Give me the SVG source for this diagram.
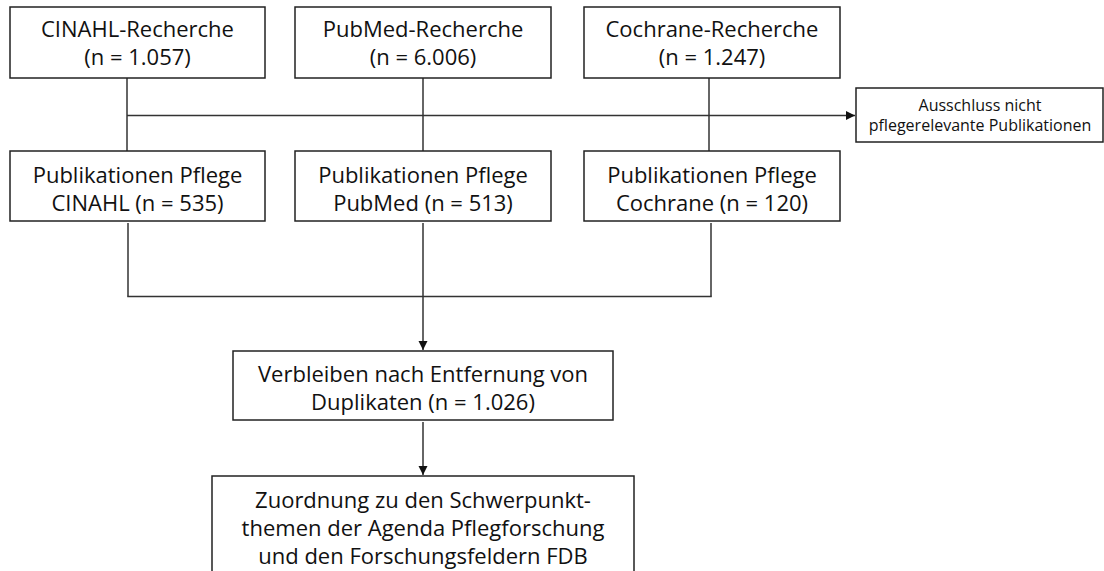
<svg xmlns="http://www.w3.org/2000/svg" width="1104" height="571" viewBox="0 0 1104 571">
<style>
.box{fill:#fff;stroke:#222;stroke-width:1.5}
.t{font-family:"Open Sans","DejaVu Sans",sans-serif;font-size:22px;fill:#111;text-anchor:middle}
.s{font-size:16px}
.ln{fill:none;stroke:#333;stroke-width:1.5}
</style>
<defs>
<marker id="ah" markerWidth="10" markerHeight="10" refX="9" refY="5" orient="auto" markerUnits="userSpaceOnUse">
<path d="M0,0.5 L9,5 L0,9.5 Z" fill="#111"/>
</marker>
</defs>
<rect width="1104" height="571" fill="#fff"/>
<g id="connectors">
<line class="ln" x1="127" y1="78" x2="127" y2="151"/>
<line class="ln" x1="423" y1="78" x2="423" y2="151"/>
<line class="ln" x1="709" y1="78" x2="709" y2="151"/>
<line class="ln" x1="127" y1="115.5" x2="855" y2="115.5" marker-end="url(#ah)"/>
<line class="ln" x1="128" y1="223" x2="128" y2="296.5"/>
<line class="ln" x1="711" y1="223" x2="711" y2="296.5"/>
<line class="ln" x1="127.25" y1="296.5" x2="711.75" y2="296.5"/>
<line class="ln" x1="423" y1="223" x2="423" y2="350" marker-end="url(#ah)"/>
<line class="ln" x1="423" y1="422" x2="423" y2="475" marker-end="url(#ah)"/>
</g>
<g id="cinahl">
<rect class="box" x="10" y="7" width="255" height="71"/>
<text class="t" x="137.5" y="36.5">CINAHL-Recherche</text>
<text class="t" x="137.5" y="64.5">(n = 1.057)</text>
</g>
<g id="pubmed">
<rect class="box" x="295" y="7" width="256" height="71"/>
<text class="t" x="423" y="36.5">PubMed-Recherche</text>
<text class="t" x="423" y="64.5">(n = 6.006)</text>
</g>
<g id="cochrane">
<rect class="box" x="584" y="7" width="256" height="71"/>
<text class="t" x="712" y="36.5">Cochrane-Recherche</text>
<text class="t" x="712" y="64.5">(n = 1.247)</text>
</g>
<g id="ausschluss">
<rect class="box" x="856" y="88" width="247" height="54"/>
<text class="t s" x="980" y="111">Ausschluss nicht</text>
<text class="t s" x="980" y="131">pflegerelevante Publikationen</text>
</g>
<g id="pflege-cinahl">
<rect class="box" x="10" y="151" width="255" height="70"/>
<text class="t" x="137.5" y="183">Publikationen Pflege</text>
<text class="t" x="137.5" y="211">CINAHL (n = 535)</text>
</g>
<g id="pflege-pubmed">
<rect class="box" x="295" y="151" width="256" height="70"/>
<text class="t" x="423" y="183">Publikationen Pflege</text>
<text class="t" x="423" y="211">PubMed (n = 513)</text>
</g>
<g id="pflege-cochrane">
<rect class="box" x="584" y="151" width="256" height="70"/>
<text class="t" x="712" y="183">Publikationen Pflege</text>
<text class="t" x="712" y="211">Cochrane (n = 120)</text>
</g>
<g id="verbleiben">
<rect class="box" x="233" y="351" width="380" height="69"/>
<text class="t" x="423" y="382">Verbleiben nach Entfernung von</text>
<text class="t" x="423" y="410">Duplikaten (n = 1.026)</text>
</g>
<g id="zuordnung">
<rect class="box" x="212" y="476" width="422" height="110"/>
<text class="t" x="423" y="508">Zuordnung zu den Schwerpunkt-</text>
<text class="t" x="423" y="536">themen der Agenda Pflegforschung</text>
<text class="t" x="423" y="564">und den Forschungsfeldern FDB</text>
</g>
</svg>
